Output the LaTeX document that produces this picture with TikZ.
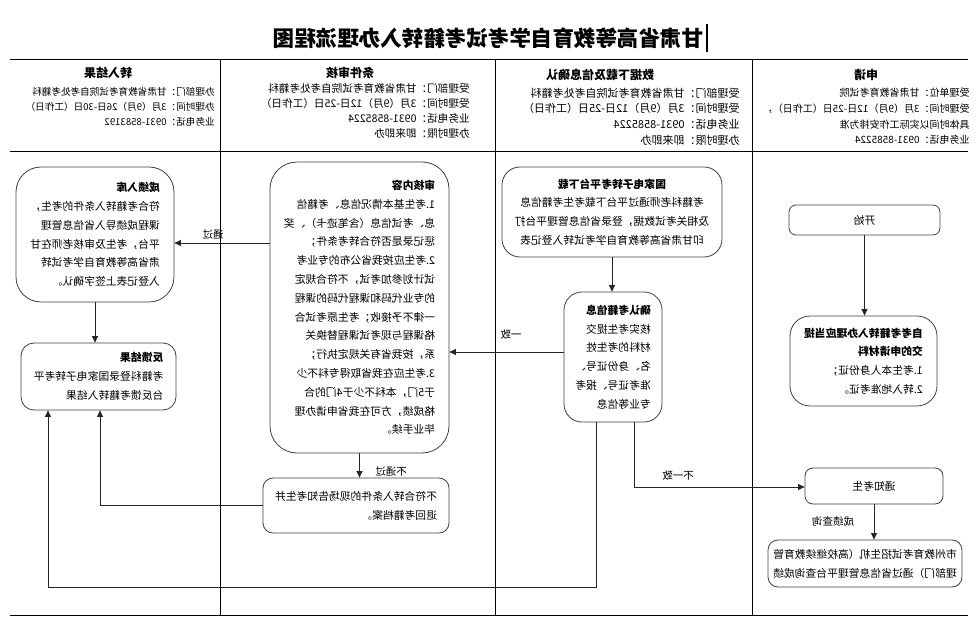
\documentclass[tikz,border=0pt]{standalone}
\usepackage{fontspec}
\setmainfont{Noto Sans CJK SC}
\usetikzlibrary{arrows.meta}

\begin{document}
\begin{tikzpicture}[x=1pt,y=-1pt,line width=0.8pt,>={Triangle[length=6.5pt,width=6pt]},
  mirror/.style={xscale=-1},
  box/.style={mirror,draw=black!75,rounded corners=#1,align=left,inner sep=0pt,
    font=\fontsize{10.8}{18.8}\selectfont},
  box/.default=10pt,
  head/.style={mirror,font=\fontsize{12}{14}\selectfont\bfseries},
  info/.style={mirror,anchor=west,inner sep=0pt,font=\fontsize{#1}{12}\selectfont},
  lab/.style={mirror,inner sep=1pt,font=\fontsize{10.5}{12}\selectfont},
  conn/.style={draw=black!85,line width=0.9pt},
  arr/.style={conn,->}]
\useasboundingbox (0,0) rectangle (978,628);
% ---------- 标题与表格线 ----------
\node[mirror,font=\fontsize{21.5}{24}\selectfont\bfseries] (title) at (488,38) {甘肃省高等教育自学考试考籍转入办理流程图};
\draw[line width=1.6pt] (707,24) -- (707,52);
\draw (10,59) -- (968,59);
\draw (10,151) -- (968,151);
\draw (10,615) -- (968,615);
\foreach \x in {220,495,752}{
  \draw (\x,59) -- (\x,615);
}
% ---------- 表头 ----------
\node[head] (hd-a) at (866,75) {申请};
\foreach \txt [count=\i] in {受理单位：甘肃省教育考试院,受理时间：3月（9月）12日-25日（工作日），,具体时间以实际工作安排为准,业务电话：0931-8585224}{
  \node[info=10] (hda-\i) at (970,{93+15.7*(\i-1)}) {\txt};
}
\node[head] (hd-b) at (600,75) {数据下载及信息确认};
\foreach \txt [count=\i] in {受理部门：甘肃省教育考试院自考处考籍科,受理时间：3月（9月）12日-25日（工作日）,业务电话：0931-8585224,办理时限：即来即办}{
  \node[info=11] (hdb-\i) at (740,{93+15.7*(\i-1)}) {\txt};
}
\node[head] (hd-c) at (350,73) {条件审核};
\foreach \txt [count=\i] in {受理部门：甘肃省教育考试院自考处考籍科,受理时间：3月（9月）12日-25日（工作日）,业务电话：0931-8585224,办理时限：即来即办}{
  \node[info=10.6] (hdc-\i) at (470,{88+15*(\i-1)}) {\txt};
}
\node[head] (hd-d) at (108,73) {转入结果};
\foreach \txt [count=\i] in {办理部门：甘肃省教育考试院自考处考籍科,办理时间：3月（9月）26日-30日（工作日）,业务电话：0931-8583192}{
  \node[info=9.6] (hdd-\i) at (215,{92+15*(\i-1)}) {\txt};
}
% ---------- 申请 ----------
\node[box=7pt,minimum width=151pt,minimum height=30pt] (start) at (864.5,220) {开始};
\node[box=20pt,minimum width=147pt,minimum height=90pt] (apply) at (863.5,361)
  {{\bfseries 自考考籍转入办理应当提}\\{\bfseries 交的申请材料}\\1.考生本人身份证；\\2.转入地准考证。};
\node[box=8pt,minimum width=138pt,minimum height=36pt] (tongzhi) at (874,486) {通知考生};
\node[box=10pt,minimum width=194pt,minimum height=47pt] (query) at (865,563.5)
  {市州教育考试招生机（高校继续教育管\\理部门）通过省信息管理平台查询成绩};
% ---------- 数据下载及信息确认 ----------
\node[box=18pt,align=center,minimum width=220pt,minimum height=90pt] (download) at (612,212)
  {{\bfseries 国家电子转考平台下载}\\考籍科老师通过平台下载考生考籍信息\\及相关考试数据，登录省信息管理平台打\\印甘肃省高等教育自学考试转入登记表};
\node[box=18pt,minimum width=98pt,minimum height=130pt] (queren) at (613,357)
  {{\bfseries 确认考籍信息}\\核实考生提交\\材料的考生姓\\名、身份证号、\\准考证号、报考\\专业等信息};
% ---------- 条件审核 ----------
\node[box=27pt,minimum width=179pt,minimum height=291pt] (shenhe) at (359.5,307.5)
  {{\bfseries 审核内容}\\1.考生基本情况信息、考籍信\\息、考试信息（含笔迹卡）、奖\\惩记录是否符合转考条件；\\2.考生应按我省公布的专业考\\试计划参加考试，不符合规定\\的专业代码和课程代码的课程\\一律不予接收；考生原考试合\\格课程与现考试课程替换关\\系，按我省有关规定执行；\\3.考生应在我省取得专科不少\\于5门，本科不少于4门的合\\格成绩，方可在我省申请办理\\毕业手续。};
\node[box=10pt,minimum width=186pt,minimum height=55pt] (buhege) at (356,505.5)
  {不符合转入条件的现场告知考生并\\退回考籍档案。};
% ---------- 转入结果 ----------
\node[box=25pt,minimum width=158pt,minimum height=135pt] (ruku) at (95,234.5)
  {{\bfseries 成绩入库}\\符合考籍转入条件的考生，\\课程成绩导入省信息管理\\平台，考生及审核老师在甘\\肃省高等教育自学考试转\\入登记表上签字确认。};
\node[box=13pt,minimum width=155pt,minimum height=67pt] (fankui) at (98.5,376.5)
  {{\bfseries 反馈结果}\\考籍科登录国家电子转考平\\台反馈考籍转入结果};
% ---------- 连线（镜像节点：east 在左侧） ----------
\draw[arr] (start.south) -- (start.south |- apply.north);
\draw[arr] (download.south) -- (download.south |- queren.north);
\coordinate (same) at (0,352);
\draw[arr] (queren.east |- same) -- (shenhe.west |- same);
\node[lab] (l-same) at (511,335) {一致};
\coordinate (diff) at (634,487);
\draw[arr] (queren.south -| diff) -- (diff) -- (tongzhi.east |- diff);
\node[lab] (l-diff) at (678,476) {不一致};
\draw[arr] (tongzhi.south) -- (tongzhi.south |- query.north);
\node[lab] (l-query) at (833,522) {成绩查询};
\coordinate (pass) at (0,243);
\draw[arr] (shenhe.east |- pass) -- (ruku.west |- pass);
\node[lab] (l-pass) at (213,234) {通过};
\draw[arr] (shenhe.south) -- (shenhe.south |- buhege.north);
\node[lab] (l-fail) at (391,472) {不通过};
\coordinate (ret) at (100,0);
\draw[arr] (buhege.east) -- (buhege.east -| ret) -- (ret |- fankui.south);
\draw[arr] (ruku.south) -- (ruku.south |- fankui.north);
\coordinate (lowA) at (596,587);
\coordinate (lowB) at (48,587);
\draw[arr] (queren.south -| lowA) -- (lowA) -- (lowB) -- (lowB |- fankui.south);
\end{tikzpicture}
\end{document}
